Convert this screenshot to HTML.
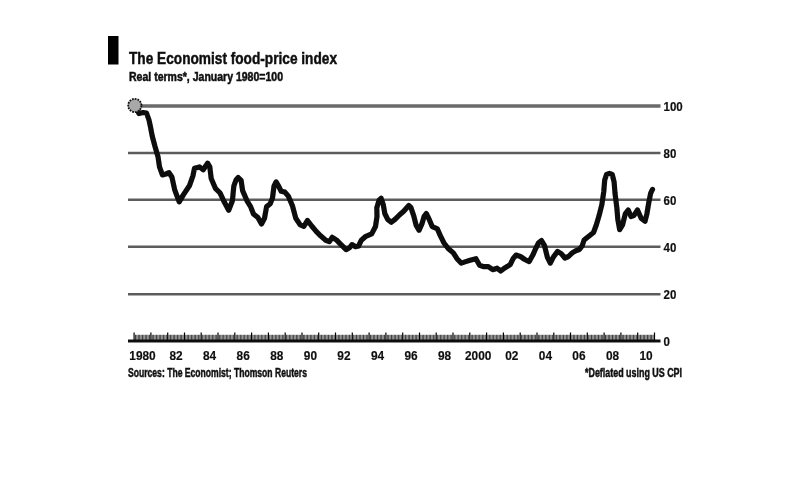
<!DOCTYPE html>
<html><head><meta charset="utf-8">
<style>
html,body{margin:0;padding:0;background:#fff;}
body{width:810px;height:480px;overflow:hidden;position:relative;}
svg{position:absolute;left:0;top:0;}
text{font-family:"Liberation Sans",sans-serif;fill:#111;stroke:#111;stroke-width:0.5;}
.g{stroke:#5c5c5c;stroke-width:2.5;}
.g1{stroke:#6a6a6a;stroke-width:3.4;}
.b{stroke:#111;stroke-width:3;}
.t{stroke:#000;stroke-width:1.2;fill:none;}
.mt{stroke:#0a0a0a;stroke-width:0.8;fill:none;}
.yl{font-size:13.5px;font-weight:bold;stroke-width:0.2;}
.xl{font-size:13.5px;font-weight:bold;stroke-width:0.2;}
.ln{fill:none;stroke:#0a0a0a;stroke-width:5.2;stroke-linejoin:round;stroke-linecap:round;}
.c{fill:none;stroke:#111;stroke-width:1.8;stroke-dasharray:1.8 1.0;}
.ti{font-size:17px;font-weight:bold;}
.st{font-size:12px;font-weight:bold;}
.src{font-size:12.5px;font-weight:bold;}
</style></head>
<body>
<svg width="810" height="480" viewBox="0 0 810 480">
<defs>
<filter id="bl" x="0" y="0" width="810" height="480" filterUnits="userSpaceOnUse"><feGaussianBlur stdDeviation="0.5"/></filter>

</defs>
<rect x="0" y="0" width="810" height="480" fill="#fff"/>
<g filter="url(#bl)">
<rect x="108" y="36" width="10.5" height="28.5" fill="#000"/>
<line x1="128" y1="106" x2="660.5" y2="106" class="g1"/>
<line x1="128" y1="153" x2="660.5" y2="153" class="g"/>
<line x1="128" y1="199.8" x2="660.5" y2="199.8" class="g"/>
<line x1="128" y1="246.7" x2="660.5" y2="246.7" class="g"/>
<line x1="128" y1="294.2" x2="660.5" y2="294.2" class="g"/>
<line x1="128" y1="341" x2="660.5" y2="341" class="b"/>
</g>
<g filter="url(#bl)">
<text x="663.5" y="110.9" class="yl" textLength="19.2" lengthAdjust="spacingAndGlyphs">100</text>
<text x="663.5" y="157.9" class="yl" textLength="12.8" lengthAdjust="spacingAndGlyphs">80</text>
<text x="663.5" y="204.7" class="yl" textLength="12.8" lengthAdjust="spacingAndGlyphs">60</text>
<text x="663.5" y="251.6" class="yl" textLength="12.8" lengthAdjust="spacingAndGlyphs">40</text>
<text x="663.5" y="299.1" class="yl" textLength="12.8" lengthAdjust="spacingAndGlyphs">20</text>
<text x="663.5" y="346" class="yl" textLength="6.4" lengthAdjust="spacingAndGlyphs">0</text>
<path d="M134.1 340V332.5 M150.9 340V332.5 M167.7 340V332.5 M184.5 340V332.5 M201.2 340V332.5 M218.0 340V332.5 M234.8 340V332.5 M251.6 340V332.5 M268.4 340V332.5 M285.2 340V332.5 M302.0 340V332.5 M318.7 340V332.5 M335.5 340V332.5 M352.3 340V332.5 M369.1 340V332.5 M385.9 340V332.5 M402.7 340V332.5 M419.5 340V332.5 M436.2 340V332.5 M453.0 340V332.5 M469.8 340V332.5 M486.6 340V332.5 M503.4 340V332.5 M520.2 340V332.5 M537.0 340V332.5 M553.8 340V332.5 M570.5 340V332.5 M587.3 340V332.5 M604.1 340V332.5 M620.9 340V332.5 M637.7 340V332.5 M654.5 340V332.5" class="t"/>
<path d="M135.50 340V334.8 M136.90 340V334.8 M138.30 340V334.8 M139.70 340V334.8 M141.09 340V334.8 M142.49 340V334.8 M143.89 340V334.8 M145.29 340V334.8 M146.69 340V334.8 M148.09 340V334.8 M149.49 340V334.8 M152.28 340V334.8 M153.68 340V334.8 M155.08 340V334.8 M156.48 340V334.8 M157.88 340V334.8 M159.28 340V334.8 M160.68 340V334.8 M162.08 340V334.8 M163.48 340V334.8 M164.87 340V334.8 M166.27 340V334.8 M169.07 340V334.8 M170.47 340V334.8 M171.87 340V334.8 M173.27 340V334.8 M174.67 340V334.8 M176.06 340V334.8 M177.46 340V334.8 M178.86 340V334.8 M180.26 340V334.8 M181.66 340V334.8 M183.06 340V334.8 M185.86 340V334.8 M187.26 340V334.8 M188.65 340V334.8 M190.05 340V334.8 M191.45 340V334.8 M192.85 340V334.8 M194.25 340V334.8 M195.65 340V334.8 M197.05 340V334.8 M198.45 340V334.8 M199.85 340V334.8 M202.64 340V334.8 M204.04 340V334.8 M205.44 340V334.8 M206.84 340V334.8 M208.24 340V334.8 M209.64 340V334.8 M211.04 340V334.8 M212.43 340V334.8 M213.83 340V334.8 M215.23 340V334.8 M216.63 340V334.8 M219.43 340V334.8 M220.83 340V334.8 M222.23 340V334.8 M223.63 340V334.8 M225.02 340V334.8 M226.42 340V334.8 M227.82 340V334.8 M229.22 340V334.8 M230.62 340V334.8 M232.02 340V334.8 M233.42 340V334.8 M236.21 340V334.8 M237.61 340V334.8 M239.01 340V334.8 M240.41 340V334.8 M241.81 340V334.8 M243.21 340V334.8 M244.61 340V334.8 M246.01 340V334.8 M247.41 340V334.8 M248.80 340V334.8 M250.20 340V334.8 M253.00 340V334.8 M254.40 340V334.8 M255.80 340V334.8 M257.20 340V334.8 M258.60 340V334.8 M260.00 340V334.8 M261.39 340V334.8 M262.79 340V334.8 M264.19 340V334.8 M265.59 340V334.8 M266.99 340V334.8 M269.79 340V334.8 M271.19 340V334.8 M272.58 340V334.8 M273.98 340V334.8 M275.38 340V334.8 M276.78 340V334.8 M278.18 340V334.8 M279.58 340V334.8 M280.98 340V334.8 M282.38 340V334.8 M283.78 340V334.8 M286.57 340V334.8 M287.97 340V334.8 M289.37 340V334.8 M290.77 340V334.8 M292.17 340V334.8 M293.57 340V334.8 M294.97 340V334.8 M296.36 340V334.8 M297.76 340V334.8 M299.16 340V334.8 M300.56 340V334.8 M303.36 340V334.8 M304.76 340V334.8 M306.16 340V334.8 M307.56 340V334.8 M308.95 340V334.8 M310.35 340V334.8 M311.75 340V334.8 M313.15 340V334.8 M314.55 340V334.8 M315.95 340V334.8 M317.35 340V334.8 M320.14 340V334.8 M321.54 340V334.8 M322.94 340V334.8 M324.34 340V334.8 M325.74 340V334.8 M327.14 340V334.8 M328.54 340V334.8 M329.94 340V334.8 M331.34 340V334.8 M332.73 340V334.8 M334.13 340V334.8 M336.93 340V334.8 M338.33 340V334.8 M339.73 340V334.8 M341.13 340V334.8 M342.53 340V334.8 M343.93 340V334.8 M345.32 340V334.8 M346.72 340V334.8 M348.12 340V334.8 M349.52 340V334.8 M350.92 340V334.8 M353.72 340V334.8 M355.12 340V334.8 M356.51 340V334.8 M357.91 340V334.8 M359.31 340V334.8 M360.71 340V334.8 M362.11 340V334.8 M363.51 340V334.8 M364.91 340V334.8 M366.31 340V334.8 M367.71 340V334.8 M370.50 340V334.8 M371.90 340V334.8 M373.30 340V334.8 M374.70 340V334.8 M376.10 340V334.8 M377.50 340V334.8 M378.90 340V334.8 M380.29 340V334.8 M381.69 340V334.8 M383.09 340V334.8 M384.49 340V334.8 M387.29 340V334.8 M388.69 340V334.8 M390.09 340V334.8 M391.49 340V334.8 M392.88 340V334.8 M394.28 340V334.8 M395.68 340V334.8 M397.08 340V334.8 M398.48 340V334.8 M399.88 340V334.8 M401.28 340V334.8 M404.07 340V334.8 M405.47 340V334.8 M406.87 340V334.8 M408.27 340V334.8 M409.67 340V334.8 M411.07 340V334.8 M412.47 340V334.8 M413.87 340V334.8 M415.27 340V334.8 M416.66 340V334.8 M418.06 340V334.8 M420.86 340V334.8 M422.26 340V334.8 M423.66 340V334.8 M425.06 340V334.8 M426.46 340V334.8 M427.86 340V334.8 M429.25 340V334.8 M430.65 340V334.8 M432.05 340V334.8 M433.45 340V334.8 M434.85 340V334.8 M437.65 340V334.8 M439.05 340V334.8 M440.44 340V334.8 M441.84 340V334.8 M443.24 340V334.8 M444.64 340V334.8 M446.04 340V334.8 M447.44 340V334.8 M448.84 340V334.8 M450.24 340V334.8 M451.64 340V334.8 M454.43 340V334.8 M455.83 340V334.8 M457.23 340V334.8 M458.63 340V334.8 M460.03 340V334.8 M461.43 340V334.8 M462.83 340V334.8 M464.22 340V334.8 M465.62 340V334.8 M467.02 340V334.8 M468.42 340V334.8 M471.22 340V334.8 M472.62 340V334.8 M474.02 340V334.8 M475.42 340V334.8 M476.81 340V334.8 M478.21 340V334.8 M479.61 340V334.8 M481.01 340V334.8 M482.41 340V334.8 M483.81 340V334.8 M485.21 340V334.8 M488.00 340V334.8 M489.40 340V334.8 M490.80 340V334.8 M492.20 340V334.8 M493.60 340V334.8 M495.00 340V334.8 M496.40 340V334.8 M497.80 340V334.8 M499.20 340V334.8 M500.59 340V334.8 M501.99 340V334.8 M504.79 340V334.8 M506.19 340V334.8 M507.59 340V334.8 M508.99 340V334.8 M510.39 340V334.8 M511.79 340V334.8 M513.18 340V334.8 M514.58 340V334.8 M515.98 340V334.8 M517.38 340V334.8 M518.78 340V334.8 M521.58 340V334.8 M522.98 340V334.8 M524.37 340V334.8 M525.77 340V334.8 M527.17 340V334.8 M528.57 340V334.8 M529.97 340V334.8 M531.37 340V334.8 M532.77 340V334.8 M534.17 340V334.8 M535.57 340V334.8 M538.36 340V334.8 M539.76 340V334.8 M541.16 340V334.8 M542.56 340V334.8 M543.96 340V334.8 M545.36 340V334.8 M546.76 340V334.8 M548.15 340V334.8 M549.55 340V334.8 M550.95 340V334.8 M552.35 340V334.8 M555.15 340V334.8 M556.55 340V334.8 M557.95 340V334.8 M559.35 340V334.8 M560.74 340V334.8 M562.14 340V334.8 M563.54 340V334.8 M564.94 340V334.8 M566.34 340V334.8 M567.74 340V334.8 M569.14 340V334.8 M571.93 340V334.8 M573.33 340V334.8 M574.73 340V334.8 M576.13 340V334.8 M577.53 340V334.8 M578.93 340V334.8 M580.33 340V334.8 M581.73 340V334.8 M583.13 340V334.8 M584.52 340V334.8 M585.92 340V334.8 M588.72 340V334.8 M590.12 340V334.8 M591.52 340V334.8 M592.92 340V334.8 M594.32 340V334.8 M595.72 340V334.8 M597.11 340V334.8 M598.51 340V334.8 M599.91 340V334.8 M601.31 340V334.8 M602.71 340V334.8 M605.51 340V334.8 M606.91 340V334.8 M608.30 340V334.8 M609.70 340V334.8 M611.10 340V334.8 M612.50 340V334.8 M613.90 340V334.8 M615.30 340V334.8 M616.70 340V334.8 M618.10 340V334.8 M619.50 340V334.8 M622.29 340V334.8 M623.69 340V334.8 M625.09 340V334.8 M626.49 340V334.8 M627.89 340V334.8 M629.29 340V334.8 M630.69 340V334.8 M632.08 340V334.8 M633.48 340V334.8 M634.88 340V334.8 M636.28 340V334.8 M639.08 340V334.8 M640.48 340V334.8 M641.88 340V334.8 M643.28 340V334.8 M644.67 340V334.8 M646.07 340V334.8 M647.47 340V334.8 M648.87 340V334.8 M650.27 340V334.8 M651.67 340V334.8 M653.07 340V334.8" class="mt"/>
<text x="129.3" y="359.6" class="xl" textLength="26.4" lengthAdjust="spacingAndGlyphs">1980</text>
<text x="169.5" y="359.6" class="xl" textLength="13.2" lengthAdjust="spacingAndGlyphs">82</text>
<text x="203.0" y="359.6" class="xl" textLength="13.2" lengthAdjust="spacingAndGlyphs">84</text>
<text x="236.6" y="359.6" class="xl" textLength="13.2" lengthAdjust="spacingAndGlyphs">86</text>
<text x="270.2" y="359.6" class="xl" textLength="13.2" lengthAdjust="spacingAndGlyphs">88</text>
<text x="303.8" y="359.6" class="xl" textLength="13.2" lengthAdjust="spacingAndGlyphs">90</text>
<text x="337.3" y="359.6" class="xl" textLength="13.2" lengthAdjust="spacingAndGlyphs">92</text>
<text x="370.9" y="359.6" class="xl" textLength="13.2" lengthAdjust="spacingAndGlyphs">94</text>
<text x="404.5" y="359.6" class="xl" textLength="13.2" lengthAdjust="spacingAndGlyphs">96</text>
<text x="438.0" y="359.6" class="xl" textLength="13.2" lengthAdjust="spacingAndGlyphs">98</text>
<text x="465.0" y="359.6" class="xl" textLength="26.4" lengthAdjust="spacingAndGlyphs">2000</text>
<text x="505.2" y="359.6" class="xl" textLength="13.2" lengthAdjust="spacingAndGlyphs">02</text>
<text x="538.8" y="359.6" class="xl" textLength="13.2" lengthAdjust="spacingAndGlyphs">04</text>
<text x="572.3" y="359.6" class="xl" textLength="13.2" lengthAdjust="spacingAndGlyphs">06</text>
<text x="605.9" y="359.6" class="xl" textLength="13.2" lengthAdjust="spacingAndGlyphs">08</text>
<text x="639.5" y="359.6" class="xl" textLength="13.2" lengthAdjust="spacingAndGlyphs">10</text>
<path d="M135,105.5 L139,113.5 L143,112.5 L146.5,113 L149,120 L150.5,127 L152.2,136 L155,146.5 L158,156.7 L159.5,166.9 L162.4,174.9 L166,174 L169,172.7 L171.9,177 L174.8,190.2 L179.2,201.9 L183.5,194.6 L189.4,185.8 L193,175.6 L194.5,168.3 L199.6,166.9 L203.2,169.8 L207.6,163.2 L209.8,166.9 L211.2,178.5 L215.6,188.7 L220,192.8 L224.4,202.3 L228.7,210.3 L232.4,200.8 L233.8,186.2 L236,180 L238.2,177.5 L241.1,180.4 L242.6,190.6 L247,200.8 L250.6,206.6 L253.5,214 L257.9,217.6 L261.5,224.1 L264.5,218.3 L266.6,206.6 L270.3,203.7 L272.5,197.9 L274,186.2 L276.1,181.9 L278.3,185.5 L281.2,191.3 L284.9,192.1 L288.5,196.4 L292.5,206 L295.8,218.3 L300.2,224.9 L303.8,226.3 L307.5,220.5 L311.9,226.3 L316.2,231.4 L320.6,235.8 L325.7,240.2 L329.4,241.6 L332.3,237.3 L336.6,240.2 L341,244.6 L346.1,249.7 L349.8,247.5 L352,244.6 L355.6,246.7 L358.5,246 L361.4,240.2 L365.8,236.3 L371.7,233.9 L375.5,226.5 L377,216.5 L376.8,207.7 L379,200.4 L381.1,198.2 L383.3,204.8 L384.8,213.5 L387.7,219.4 L391.3,222.3 L395,219.4 L399.4,215 L403.7,211.3 L408.8,205.5 L411,207.7 L413.9,216.4 L416.1,225.2 L419,230.3 L422,223.7 L424.1,216.4 L426.3,213.5 L429.2,219.4 L432.2,226.6 L435.8,228.1 L437.3,228.8 L440.2,235.4 L443.8,242.7 L448.2,248.5 L453.3,252.9 L457,258.7 L461.3,263.1 L465.7,261.6 L470.1,260.2 L475.9,258.7 L479.6,265.3 L483.9,266.7 L488.3,266.7 L492.7,269.7 L497.1,268.2 L500.7,271.1 L504.3,268.2 L508,266 L510.2,264.6 L513.1,258.7 L516,255.1 L520.4,256.5 L524.8,259.5 L529.2,261.6 L532.8,255.1 L535.7,248.5 L538.6,242.7 L541.5,240.5 L544.5,245.6 L547.4,257.3 L550.3,263.1 L553.2,257.3 L557.6,251.4 L561.2,253.6 L564.9,258 L568.5,256.5 L572.2,252.9 L575.8,250.7 L579.4,249.5 L582.2,245.7 L584.1,240 L588.8,236.3 L593.5,232.5 L596.3,225 L599.1,215.6 L601.9,204.4 L603.8,191.3 L604.7,180 L606.6,174.4 L609.4,173.4 L612.2,174.4 L614.1,181.9 L615,193.1 L616.9,208.2 L617.8,219.4 L619.7,229.7 L622.5,225 L625.3,213.8 L628.2,210 L631,216.6 L633.8,215.6 L637.5,210 L641.3,218.5 L645,221.3 L646.9,213.8 L648.8,202.5 L650.7,193.1 L652.5,189.4" class="ln"/>
<circle cx="134.8" cy="105.5" r="6.6" fill="#a8a8a8"/>
<circle cx="134.8" cy="105.5" r="6.6" class="c"/>
<text x="129" y="63.5" class="ti" textLength="208" lengthAdjust="spacingAndGlyphs">The Economist food-price index</text>
<text x="129" y="80.5" class="st" textLength="154" lengthAdjust="spacingAndGlyphs">Real terms*, January 1980=100</text>
<text x="128" y="377" class="src" textLength="179" lengthAdjust="spacingAndGlyphs">Sources: The Economist; Thomson Reuters</text>
<text x="585" y="377" class="src" textLength="97" lengthAdjust="spacingAndGlyphs">*Deflated using US CPI</text>
</g>
</svg>
</body></html>
